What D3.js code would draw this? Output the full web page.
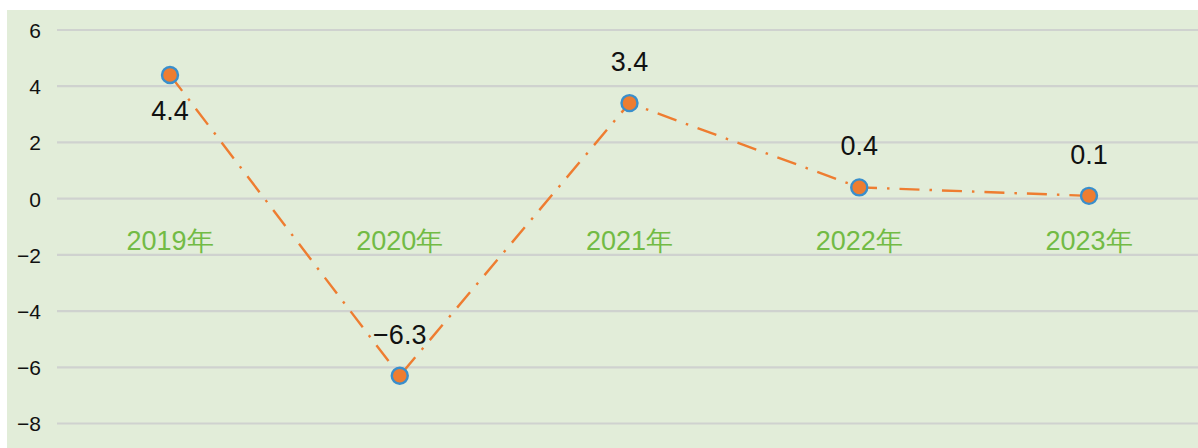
<!DOCTYPE html>
<html>
<head>
<meta charset="utf-8">
<script src="https://cdn.jsdelivr.net/npm/d3@7"></script>
<style>
html,body{margin:0;padding:0;background:#fff;}
svg{display:block;}
</style>
</head>
<body>
<svg id="chart" width="1198" height="448"></svg>
<script>
const categories = ["2019年","2020年","2021年","2022年","2023年"];
const values = [4.4, -6.3, 3.4, 0.4, 0.1];
const valueLabels = ["4.4","\u22126.3","3.4","0.4","0.1"];
const labelBelow = [true, false, false, false, false];
const yTicks = [6,4,2,0,-2,-4,-6,-8];
const yTickLabels = ["6","4","2","0","\u22122","\u22124","\u22126","\u22128"];

const W = 1198, H = 448;
const svg = d3.select("#chart");
const font = "'Liberation Sans', Arial, Helvetica, sans-serif";

svg.append("rect").attr("x",7).attr("y",10).attr("width",W-7).attr("height",H-10).attr("fill","#e2edd9");

const x = d3.scalePoint().domain(categories).range([170, 1089]);
const y = d3.scaleLinear().domain([-8, 6]).range([423.5, 30]);

// gridlines
const grid = svg.append("g");
grid.selectAll("line").data(yTicks).join("line")
  .attr("x1",57).attr("x2",W)
  .attr("y1",d=>y(d)).attr("y2",d=>y(d))
  .attr("stroke","#cfd2cf").attr("stroke-width",2.2);

// y axis labels
const yAxis = d3.axisLeft(y).tickValues(yTicks).tickSize(0).tickPadding(0)
  .tickFormat((d,i)=>yTickLabels[yTicks.indexOf(d)]);
const ga = svg.append("g").attr("transform","translate(41,0)").call(yAxis);
ga.select(".domain").remove();
ga.selectAll("text").attr("font-family",font).attr("font-size",21).attr("fill","#111").attr("dy","0.35em");

// category labels
svg.append("g").selectAll("text").data(categories).join("text")
  .attr("x",d=>x(d)).attr("y",y(0)+51)
  .attr("text-anchor","middle")
  .attr("font-family",font).attr("font-size",27)
  .attr("fill","#72bb45")
  .text(d=>d);

// line
const pts = categories.map((c,i)=>({c, v: values[i], i}));
const line = d3.line().x(d=>x(d.c)).y(d=>y(d.v));
svg.append("path").datum(pts).attr("d",line)
  .attr("fill","none").attr("stroke","#ee7d31").attr("stroke-width",2.4)
  .attr("stroke-dasharray","20,10,2.5,10");

// markers
svg.append("g").selectAll("circle").data(pts).join("circle")
  .attr("cx",d=>x(d.c)).attr("cy",d=>y(d.v)).attr("r",8)
  .attr("fill","#ee7d31").attr("stroke","#3a8fcc").attr("stroke-width",2.4);

// value labels
svg.append("g").selectAll("text").data(pts).join("text")
  .attr("x",d=>x(d.c)).attr("y",d=>labelBelow[d.i] ? y(d.v)+45 : y(d.v)-32)
  .attr("text-anchor","middle")
  .attr("font-family",font).attr("font-size",27).attr("fill","#111")
  .text(d=>valueLabels[d.i]);
</script>
</body>
</html>
